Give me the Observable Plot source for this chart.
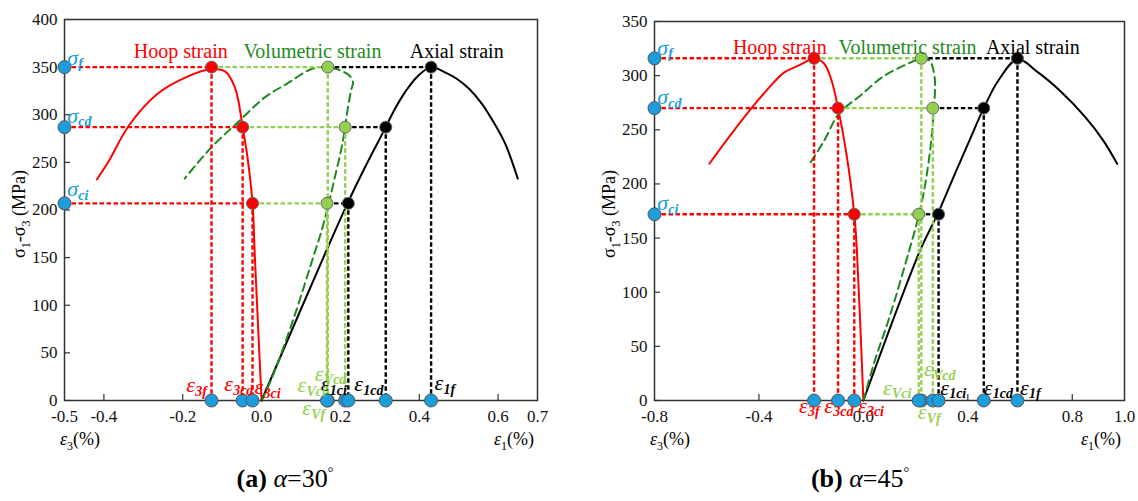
<!DOCTYPE html>
<html><head><meta charset="utf-8">
<script src="https://cdn.jsdelivr.net/npm/d3@7"></script>
<script src="https://cdn.jsdelivr.net/npm/@observablehq/plot@0.6"></script>
<style>
body{margin:0;background:#fff;}
#wrap{position:relative;width:1138px;height:501px;font-family:"Liberation Serif","Times New Roman",serif;background:#fff;}
.p{position:absolute;top:0}
.t{position:absolute;font-size:18px;white-space:nowrap;line-height:1}
.t .s,.yl .s{font-size:12px;position:relative;top:5px}
.yl{position:absolute;font-size:18px;white-space:nowrap;line-height:1;transform:translate(-50%,-50%) rotate(-90deg)}
.cap{position:absolute;top:466px;font-size:26px;transform:translateX(-50%);white-space:nowrap;line-height:1}
</style></head>
<body>
<div id="wrap">
  <div id="pa" class="p" style="left:0px"></div>
  <div id="pb" class="p" style="left:570px"></div>
  <div class="yl" style="left:19px;top:214px">σ<span class="s">1</span>-σ<span class="s">3</span> (MPa)</div>
  <div class="yl" style="left:609px;top:214px">σ<span class="s">1</span>-σ<span class="s">3</span> (MPa)</div>
  <div class="t" style="left:60px;top:430px"><i>ε</i><span class="s">3</span>(%)</div>
  <div class="t" style="left:494px;top:430px"><i>ε</i><span class="s">1</span>(%)</div>
  <div class="t" style="left:650px;top:430px"><i>ε</i><span class="s">3</span>(%)</div>
  <div class="t" style="left:1081px;top:430px"><i>ε</i><span class="s">1</span>(%)</div>
  <div class="cap" style="left:285px"><b>(a)</b> <i>α</i>=30<sup style="font-size:14px">°</sup></div>
  <div class="cap" style="left:860px"><b>(b)</b> <i>α</i>=45<sup style="font-size:14px">°</sup></div>
</div>
<script>
// ---------- data: panel (a) alpha = 30 ----------
const hoopA = [[0,0],[-0.017,150],[-0.023,207],[-0.036,256],[-0.048,287],[-0.059,315],[-0.068,329],[-0.091,345],[-0.127,348],[-0.191,339.5],[-0.264,322],[-0.336,289],[-0.391,249],[-0.418,232]];
const axialA = [[0,0],[0.164,157],[0.218,207],[0.265,247],[0.315,287],[0.336,304.5],[0.364,323.8],[0.395,340],[0.430,350],[0.464,344.8],[0.495,337.8],[0.527,327],[0.559,311.5],[0.591,290.5],[0.618,269.6],[0.65,233]];
const volA = [[0,0],[0.027,24.5],[0.082,87],[0.136,157],[0.15,175],[0.168,203],[0.186,234.6],[0.205,269.6],[0.218,304.5],[0.227,325.5],[0.232,334],[0.223,341],[0.2,346.5],[0.168,350],[0.127,348],[0.064,332.5],[0.009,318.5],[-0.064,290.6],[-0.127,266],[-0.195,233]];
const sigmaA = [350, 287, 207];          // f, cd, ci
const eps3A = [-0.127, -0.048, -0.023];
const epsVA = [0.168, 0.212, 0.166];
const eps1A = [0.430, 0.315, 0.220];
const xLabelsA = [-0.5,-0.4,-0.2,0,0.2,0.4,0.6,0.7];
const xTickMarksA = [-0.4,-0.2,0,0.2,0.4,0.6];
const yTicksA = [0,50,100,150,200,250,300,350,400];

// ---------- data: panel (b) alpha = 45 ----------
const hoopB = [[0,0],[-0.025,139],[-0.035,172.5],[-0.067,231],[-0.097,270],[-0.122,295.5],[-0.15,311],[-0.189,315.5],[-0.247,309.4],[-0.303,303],[-0.372,286],[-0.456,261.7],[-0.525,240],[-0.59,218.6]];
const axialB = [[0,0],[0.218,139],[0.285,172.5],[0.35,209],[0.406,240],[0.461,270],[0.517,295.5],[0.59,315],[0.669,303],[0.753,286],[0.85,261.7],[0.919,240],[0.972,218.6]];
const volB = [[0,0],[0.044,37],[0.1,77],[0.176,139],[0.214,172.5],[0.239,203],[0.26,240],[0.27,270],[0.274,285],[0.272,300],[0.253,314],[0.221,315.5],[0.156,309.4],[0.072,298.6],[-0.011,281.7],[-0.094,264.8],[-0.15,240],[-0.206,218.6]];
const sigmaB = [316, 270, 172];
const eps3B = [-0.189, -0.097, -0.035];
const epsVB = [0.222, 0.266, 0.212];
const eps1B = [0.590, 0.461, 0.288];
const xLabelsB = [-0.8,-0.4,0,0.4,0.8,1.0];
const xTickMarksB = [-0.4,0,0.4,0.8];
const yTicksB = [0,50,100,150,200,250,300,350];

// annotation anchors (data units)
const sigNames = ["f","cd","ci"];
const sigLabA = [[-0.493,360],[-0.493,299],[-0.493,222]];
const sigLabB = [[-0.789,326],[-0.789,280],[-0.789,182]];
const epsLabA = [[-0.191,16,"3f","r"],[-0.095,17,"3cd","r"],[-0.018,14,"3ci","r"],[0.091,16,"Vci","g"],[0.135,28,"Vcd","g"],[0.103,-8,"Vf","g"],[0.15,17,"1ci","k"],[0.235,17,"1cd","k"],[0.439,18,"1f","k"]];
const epsLabB = [[-0.247,-5,"3f","r"],[-0.15,-5,"3cd","r"],[-0.021,-5,"3ci","r"],[0.075,12,"Vci","g"],[0.232,29,"Vcd","g"],[0.208,-11,"Vf","g"],[0.294,12,"1ci","k"],[0.461,12,"1cd","k"],[0.6,12,"1f","k"]];
const curveLabA = [[-0.205,366,"Hoop strain","r"],[0.129,366,"Volumetric strain","d"],[0.495,366,"Axial strain","k"]];
const curveLabB = [[-0.32,326,"Hoop strain","r"],[0.169,326,"Volumetric strain","d"],[0.649,326,"Axial strain","k"]];

const RED = "#ff0000", LG = "#92d050", DG = "#1e8a1e", BLUE = "#1c9ddc", BLK = "#000";
const COL = {r: RED, g: LG, k: BLK, d: DG};
const FONT = '"Liberation Serif","Times New Roman",serif';

function panel(cfg) {
  const {width, height, mL, mR, mT, mB, xDomain, yDomain, hoop, axial, vol, sigma, e3, eV, e1,
         xLabels, xTickMarks, yTicks, sigLab, epsLab, curveLab} = cfg;
  const xmin = xDomain[0];
  const pw = width - mL - mR, ph = height - mT - mB;
  const lvl = sigma.map((s, i) => ({s, r: e3[i], g: eV[i], k: e1[i]}));
  const dash = {strokeWidth: 2.4, strokeDasharray: "4.5,2.5"};
  const vx = d => d[0], vy = d => d[1];
  const bottomX = [...e3, ...eV, ...e1];
  return Plot.plot({
    width, height, marginLeft: mL, marginRight: mR, marginTop: mT, marginBottom: mB,
    style: {fontFamily: FONT, background: "white", overflow: "visible", color: "black"},
    x: {domain: xDomain},
    y: {domain: yDomain},
    marks: [
      Plot.axisX(xLabels, {tickSize: 0, tickPadding: 9, tickFormat: d => d.toFixed(1), label: null, fontSize: 17, fill: "#111"}),
      Plot.axisY(yTicks, {tickSize: 0, tickPadding: 7, fontSize: 17, fill: "#111", label: null}),
      Plot.tickY(yTicks, {y: d => d, insetRight: pw - 6, stroke: "#333", strokeWidth: 1.2}),
      Plot.tickX(xTickMarks, {x: d => d, insetTop: ph - 6, stroke: "#333", strokeWidth: 1.2}),
      Plot.line(hoop, {x: vx, y: vy, stroke: RED, strokeWidth: 2, curve: "catmull-rom"}),
      Plot.line(axial, {x: vx, y: vy, stroke: BLK, strokeWidth: 2, curve: "catmull-rom"}),
      Plot.line(vol, {x: vx, y: vy, stroke: DG, strokeWidth: 2, strokeDasharray: "8,5", curve: "catmull-rom"}),
      // horizontal dashed guides
      Plot.link(lvl, {x1: xmin, x2: d => d.r, y1: d => d.s, y2: d => d.s, stroke: RED, ...dash}),
      Plot.link(lvl, {x1: d => d.r, x2: d => d.g, y1: d => d.s, y2: d => d.s, stroke: LG, ...dash}),
      Plot.link(lvl, {x1: d => d.g, x2: d => d.k, y1: d => d.s, y2: d => d.s, stroke: BLK, ...dash}),
      // vertical dashed guides
      Plot.link(lvl, {x1: d => d.r, x2: d => d.r, y1: d => d.s, y2: 0, stroke: RED, ...dash}),
      Plot.link(lvl, {x1: d => d.g, x2: d => d.g, y1: d => d.s, y2: 0, stroke: LG, ...dash}),
      Plot.link(lvl, {x1: d => d.k, x2: d => d.k, y1: d => d.s, y2: 0, stroke: BLK, ...dash}),
      Plot.frame({stroke: "#333", strokeWidth: 1.5}),
      // points
      Plot.dot(lvl, {x: "r", y: "s", r: 6, fill: RED, stroke: "#666", strokeWidth: 1}),
      Plot.dot(lvl, {x: "g", y: "s", r: 6, fill: LG, stroke: "#666", strokeWidth: 1}),
      Plot.dot(lvl, {x: "k", y: "s", r: 6, fill: BLK, stroke: "#666", strokeWidth: 1}),
      Plot.dot(sigma, {x: xmin, y: d => d, r: 6.5, fill: BLUE, stroke: "#555", strokeWidth: 1}),
      Plot.dot(bottomX, {x: d => d, y: 0, r: 6.5, fill: BLUE, stroke: "#555", strokeWidth: 1}),
      // curve names
      Plot.text(curveLab, {x: vx, y: vy, text: d => d[2], fill: d => COL[d[3]], fontSize: 20}),
      // sigma labels
      Plot.text(sigLab, {x: vx, y: vy, text: () => "σ", textAnchor: "start", fill: BLUE, fontSize: 22, fontStyle: "italic"}),
      Plot.text(sigLab, {x: vx, y: vy, text: (d, i) => sigNames[i], textAnchor: "start", dx: 11, dy: 6, fill: BLUE, fontSize: 14, fontStyle: "italic", fontWeight: "bold"}),
      // epsilon labels
      Plot.text(epsLab, {x: vx, y: vy, text: () => "ε", textAnchor: "start", fill: d => COL[d[3]], fontSize: 22, fontStyle: "italic"}),
      Plot.text(epsLab, {x: vx, y: vy, text: d => d[2], textAnchor: "start", dx: 9, dy: 6, fill: d => COL[d[3]], fontSize: 14, fontStyle: "italic", fontWeight: "bold"})
    ]
  });
}

document.getElementById("pa").append(panel({
  width: 560, height: 450, mL: 64, mR: 23, mT: 19, mB: 50,
  xDomain: [-0.5, 0.7], yDomain: [0, 400],
  hoop: hoopA, axial: axialA, vol: volA, sigma: sigmaA, e3: eps3A, eV: epsVA, e1: eps1A,
  xLabels: xLabelsA, xTickMarks: xTickMarksA, yTicks: yTicksA,
  sigLab: sigLabA, epsLab: epsLabA, curveLab: curveLabA
}));
document.getElementById("pb").append(panel({
  width: 568, height: 450, mL: 84, mR: 14, mT: 21, mB: 50,
  xDomain: [-0.8, 1.0], yDomain: [0, 350],
  hoop: hoopB, axial: axialB, vol: volB, sigma: sigmaB, e3: eps3B, eV: epsVB, e1: eps1B,
  xLabels: xLabelsB, xTickMarks: xTickMarksB, yTicks: yTicksB,
  sigLab: sigLabB, epsLab: epsLabB, curveLab: curveLabB
}));
</script>
</body></html>
